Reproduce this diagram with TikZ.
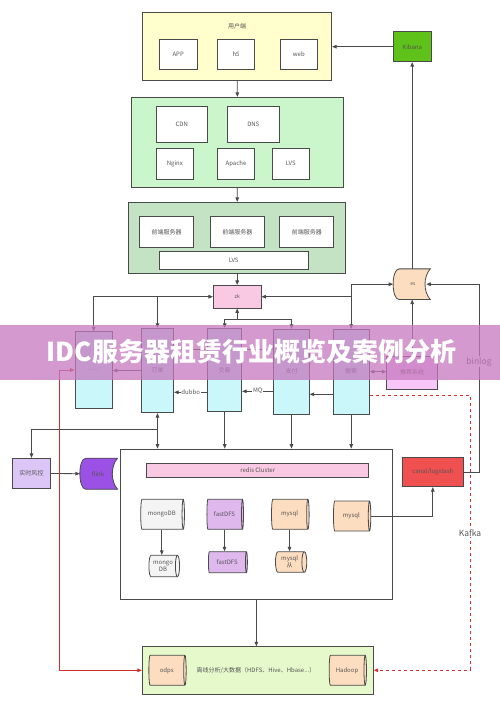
\documentclass[tikz,border=0pt]{standalone}
\usepackage{fontspec}
\setmainfont{Noto Sans CJK SC}
\usetikzlibrary{arrows.meta,shapes.geometric,calc}
\definecolor{lc}{HTML}{4A4A4A}
\definecolor{tc}{HTML}{555555}
\definecolor{cyanf}{HTML}{C9F7FA}
\definecolor{userf}{HTML}{FFFECC}
\definecolor{gtwo}{HTML}{CBF5CB}
\definecolor{gthree}{HTML}{C4E3C4}
\definecolor{pinkf}{HTML}{F9C8E2}
\definecolor{peach}{HTML}{FDDDC0}
\definecolor{kibf}{HTML}{5FC21A}
\definecolor{lavf}{HTML}{DCC6F7}
\definecolor{flinkf}{HTML}{9B50E6}
\definecolor{fdfsf}{HTML}{DFB8EE}
\definecolor{mongof}{HTML}{F4F4F4}
\definecolor{canalf}{HTML}{F0504F}
\definecolor{tjf}{HTML}{F8C6F8}
\definecolor{botf}{HTML}{E6F9CB}
\definecolor{redl}{HTML}{D03030}
\definecolor{bannerf}{HTML}{C678BE}
\tikzset{
  bx/.style={draw=lc, line width=0.8pt, inner sep=0pt, font=\fontsize{6}{7}\selectfont, text=tc, fill=white},
  cont/.style={draw=lc, line width=0.8pt, inner sep=0pt},
  ln/.style={draw=lc, line width=0.8pt},
  arr/.style={ln, -{Triangle[length=4.5pt,width=3.6pt]}},
  arrb/.style={ln, {Triangle[length=4.5pt,width=3.6pt]}-{Triangle[length=4.5pt,width=3.6pt]}},
  lbl/.style={fill=white, inner sep=0.8pt, font=\fontsize{6}{7}\selectfont, text=tc},
  cyl/.style={cylinder, draw=lc, line width=0.8pt, inner sep=0pt, shape aspect=0.4,
    cylinder uses custom fill, cylinder body fill=#1, cylinder end fill=#1,
    font=\fontsize{6}{7}\selectfont, text=tc, align=center},
  sdnode/.style={inner sep=0pt, font=\fontsize{5}{6}\selectfont, text=tc},
}
\newcommand\sdpath[2]{\draw[ln, fill=#2] ($(#1.north west)+(6,0)$) -- (#1.north east)
  .. controls +(-7,8) and +(-7,-8) .. (#1.south east) -- ($(#1.south west)+(6,0)$)
  .. controls +(-8,0) and +(-8,0) .. ($(#1.north west)+(6,0)$) -- cycle;}
\begin{document}
\begin{tikzpicture}[x=1pt,y=-1pt]
\useasboundingbox[fill=white] (0,0) rectangle (500,706);
% top user box
\node[cont, fill=userf, minimum width=189, minimum height=67.3] (user) at (237.2,46.35) {};
\node[font=\fontsize{6}{7}\selectfont, text=tc] (usert) at (237,26.7) {用户端};
\node[bx, minimum width=37.7, minimum height=30.3] (app) at (178.2,54.2) {APP};
\node[bx, minimum width=37.7, minimum height=30.3] (h5) at (236,54.2) {h5};
\node[bx, minimum width=37.7, minimum height=30.3] (web) at (298.8,54.2) {web};
\node[bx, fill=kibf, minimum width=37.7, minimum height=30] (kib) at (412.2,46.7) {Kibana};
% second green
\node[cont, fill=gtwo, minimum width=211.3, minimum height=90] (g2) at (237.35,142.3) {};
\node[bx, minimum width=51.7, minimum height=36] (cdn) at (181.8,124) {CDN};
\node[bx, minimum width=52, minimum height=36] (dns) at (253.3,124) {DNS};
\node[bx, minimum width=37.7, minimum height=30.3] (ngx) at (174.8,163.8) {Nginx};
\node[bx, minimum width=37.7, minimum height=30.3] (apa) at (236,163.8) {Apache};
\node[bx, minimum width=37.7, minimum height=30.3] (lvs1) at (290.8,163.8) {LVS};
% third green
\node[cont, fill=gthree, minimum width=217, minimum height=71.4] (g3) at (237.2,238) {};
\node[bx, minimum width=54, minimum height=31.4] (fe1) at (166.7,232) {前端服务器};
\node[bx, minimum width=54, minimum height=31.4] (fe2) at (237.3,232) {前端服务器};
\node[bx, minimum width=54, minimum height=31.4] (fe3) at (306.8,232) {前端服务器};
\node[bx, minimum width=148.7, minimum height=17.3] (lvs2) at (233.7,260.3) {LVS};
% zk
\node[bx, fill=pinkf, minimum width=47.7, minimum height=22.7, font=\fontsize{5}{6}\selectfont] (zk) at (237.2,296.7) {zk};
% es
\node[sdnode, minimum width=36.7, minimum height=30.3] (es) at (411.7,284.2) {};
\sdpath{es}{peach}
\node[sdnode] (est) at (413,284.2) {es};
% columns
\node[bx, fill=cyanf, minimum width=37.3, minimum height=76.6] (dots) at (93.7,370) {......};
\node[bx, fill=cyanf, minimum width=32.4, minimum height=84.4] (dd) at (157.5,370.5) {订单};
\node[bx, fill=cyanf, minimum width=34, minimum height=83.4] (jy) at (224.7,370) {交易};
\node[bx, fill=cyanf, minimum width=35.6, minimum height=84.7] (zf) at (291.5,371.7) {支付};
\node[bx, fill=cyanf, minimum width=36.3, minimum height=84.7] (ss) at (351.2,371.7) {搜索};
\node[bx, fill=tjf, minimum width=51, minimum height=33.3] (tj) at (412.2,372.7) {推荐系统};
% big box
\node[cont, fill=white, minimum width=271.3, minimum height=150] (big) at (256.35,524) {};
\node[bx, fill=pinkf, minimum width=222, minimum height=14] (redis) at (257.7,470.3) {redis Cluster};
\node[bx, fill=lavf, minimum width=38.4, minimum height=30.4] (fk) at (31.5,473.5) {实时风控};
\node[sdnode, minimum width=37.3, minimum height=30.7] (flink) at (98.7,473.7) {};
\sdpath{flink}{flinkf}
\node[sdnode, font=\fontsize{6}{7}\selectfont] (flinkt) at (98,473.7) {flink};
\node[bx, fill=canalf, minimum width=61, minimum height=29.4] (canal) at (432.8,472) {canal/logstash};
% cylinders
\node[cyl=mongof, minimum width=30, minimum height=43.7] (mg1) at (161.8,514.3) {mongoDB};
\node[cyl=fdfsf, minimum width=30, minimum height=36.6] (fd1) at (224.5,514.3) {fastDFS};
\node[cyl=peach, minimum width=30, minimum height=37.6] (my1) at (289.5,514.3) {mysql};
\node[cyl=peach, minimum width=30, minimum height=37.3] (my2) at (351.3,516) {mysql};
\node[cyl=mongof, minimum width=21.4, minimum height=30.6] (mg2) at (163,566) {mongo\\DB};
\node[cyl=fdfsf, minimum width=21, minimum height=39] (fd2) at (227.2,562.2) {fastDFS};
\node[cyl=peach, minimum width=20.6, minimum height=31.3] (my3) at (289.7,562) {mysql\\从};
% bottom box
\node[cont, fill=botf, minimum width=231, minimum height=47.3] (bot) at (257.8,670.3) {};
\node[cyl=peach, minimum width=30, minimum height=37.3] (odps) at (166.7,670.3) {odps};
\node[cyl=peach, minimum width=30, minimum height=37.3] (hdp) at (347,670.3) {Hadoop};
\node[font=\fontsize{6}{7}\selectfont, text=tc] (bott) at (256,670) {离线分析/大数据（HDFS、Hive、Hbase...）};
% connectors top
\draw[arr] (kib.west) -- (kib.west -| user.east);
\draw[arr] (user.south) -- (g2.north);
\draw[arr] (g2.south) -- (g3.north);
\draw[arr] (g3.south) -- (zk.north);
\draw[arrb] (dots.north) |- (zk.west);
\draw[arr] (dd.north |- zk.west) -- (dd.north);
\draw[arrb] (ss.north) |- (zk.east);
\draw[ln] (ss.north |- zk.east) -- (ss.north |- es.west);
\draw[arr] (ss.north |- es.west) -- (es.west);
\coordinate (zkb) at (237.2,319.3);
\draw[arr] (zkb) -- (zk.south);
\draw[arr] (zkb) -| (jy.north);
\draw[arr] (zkb) -| (zf.north);
\draw[arr] (es.north) -- (es.north -| kib.south) -- (kib.south);
\draw[arr] (tj.north) -- (tj.north |- es.south);
% between columns
\draw[arr] (dd.west) -- (dd.west -| dots.east);
\draw[arr] (jy.west |- 0,349) -- (dd.east |- 0,349);
\draw[arr] (jy.east |- 0,349) -- (zf.west |- 0,349);
\draw[arr] (jy.west |- 0,392.3) -- node[lbl]{dubbo} (dd.east |- 0,392.3);
\draw[arr] (zf.west |- 0,391.3) -- node[lbl]{MQ} (jy.east |- 0,391.3);
\draw[arr] (ss.west |- 0,394.3) -- (zf.east |- 0,394.3);
\draw[arrb] (ss.east) -- (ss.east -| tj.west);
% binlog
\coordinate (binl) at (479,284.2);
\draw[arr] (canal.east) -| (binl) -- ($(es.east)+(-4,0)$);
\node[fill=white, inner sep=1pt, font=\fontsize{8.5}{9}\selectfont, text=tc] (binlt) at (479,361.7) {binlog};
% columns to big box
\draw[arrb] (dd.south) -- (dd.south |- big.north);
\draw[arr] (jy.south) -- (jy.south |- big.north);
\draw[arr] (zf.south) -- (zf.south |- big.north);
\draw[arr] (ss.south) -- (ss.south |- big.north);
\draw[arr] (dd.south |- 0,429) -| (fk.north);
\draw[arr] (fk.east) -- (flink.west);
% cylinders
\draw[arr] (mg1.south) -- (mg1.south |- mg2.north);
\draw[arr] (fd1.south) -- (fd1.south |- fd2.north);
\draw[arr] (my1.south) -- (my1.south |- my3.north);
\draw[arr] (my2.east) -| (canal.south);
\draw[arr] (big.south) -- (big.south |- bot.north);
% red lines
\coordinate (redc) at (59.5,670.3);
\draw[line width=0.8pt, draw=redl, {Triangle[length=4.5pt,width=3.6pt]}-{Triangle[length=4.5pt,width=3.6pt]}, redl] (dots.west) -| (redc) -- (bot.west);
\coordinate (kf) at (470,395.7);
\draw[line width=0.8pt, draw=redl, dashed, -{Triangle[length=4.5pt,width=3.6pt]}, redl] (ss.east |- kf) -- (kf) -- (kf |- bot.east) -- (bot.east);
\node[fill=white, inner sep=1pt, font=\fontsize{8.5}{9}\selectfont, text=tc] (kafka) at (470,532.7) {Kafka};
% banner
\fill[bannerf, opacity=0.75] (0,325) rectangle (500,380);
\node[text=white, font=\fontsize{26}{27}\selectfont\bfseries] (banner) at (251.5,352) {IDC服务器租赁行业概览及案例分析};
\end{tikzpicture}
\end{document}
